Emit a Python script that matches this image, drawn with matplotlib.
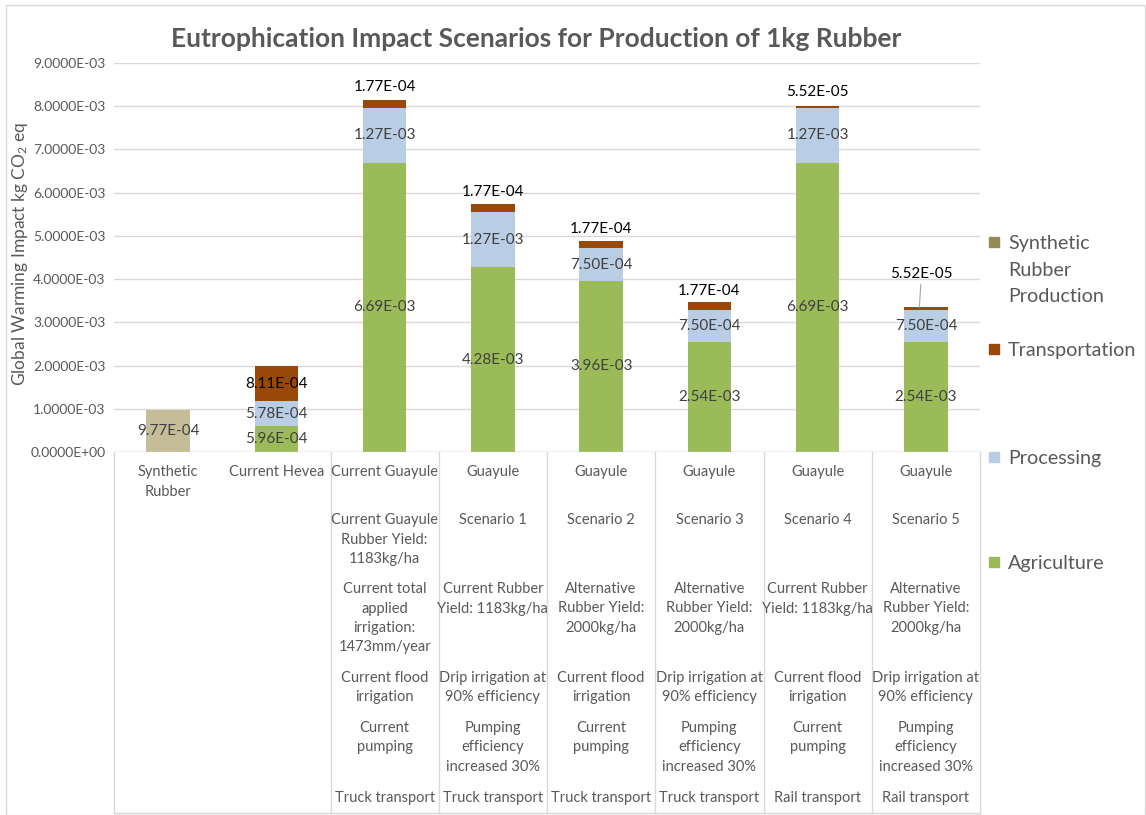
import matplotlib
matplotlib.use('Agg')
import matplotlib.pyplot as plt
from matplotlib.patches import Rectangle
from matplotlib.lines import Line2D
import numpy as np

plt.rcParams['font.family'] = ['Lato', 'DejaVu Sans']
plt.rcParams['mathtext.fontset'] = 'custom'
plt.rcParams['mathtext.rm'] = 'Lato'
plt.rcParams['mathtext.it'] = 'Lato:italic'

GREY = '#595959'
DARK = '#404040'

# data
categories = ['Synthetic Rubber', 'Current Hevea', 'Current Guayule', 'Scenario 1',
              'Scenario 2', 'Scenario 3', 'Scenario 4', 'Scenario 5']
synthetic = [9.77e-4, 0, 0, 0, 0, 0, 0, 0]
agriculture = [0, 5.96e-4, 6.69e-3, 4.28e-3, 3.96e-3, 2.54e-3, 6.69e-3, 2.54e-3]
processing = [0, 5.78e-4, 1.27e-3, 1.27e-3, 7.50e-4, 7.50e-4, 1.27e-3, 7.50e-4]
transportation = [0, 8.11e-4, 1.77e-4, 1.77e-4, 1.77e-4, 1.77e-4, 5.52e-5, 5.52e-5]

row1 = ['Synthetic\nRubber', 'Current Hevea', 'Current Guayule', 'Guayule', 'Guayule',
        'Guayule', 'Guayule', 'Guayule']
row2 = ['', '', 'Current Guayule\nRubber Yield:\n1183kg/ha', 'Scenario 1', 'Scenario 2',
        'Scenario 3', 'Scenario 4', 'Scenario 5']
row3 = ['', '', 'Current total\napplied\nirrigation:\n1473mm/year',
        'Current Rubber\nYield: 1183kg/ha', 'Alternative\nRubber Yield:\n2000kg/ha',
        'Alternative\nRubber Yield:\n2000kg/ha', 'Current Rubber\nYield: 1183kg/ha',
        'Alternative\nRubber Yield:\n2000kg/ha']
row4 = ['', '', 'Current flood\nirrigation', 'Drip irrigation at\n90% efficiency',
        'Current flood\nirrigation', 'Drip irrigation at\n90% efficiency',
        'Current flood\nirrigation', 'Drip irrigation at\n90% efficiency']
row5 = ['', '', 'Current\npumping', 'Pumping\nefficiency\nincreased 30%', 'Current\npumping',
        'Pumping\nefficiency\nincreased 30%', 'Current\npumping',
        'Pumping\nefficiency\nincreased 30%']
row6 = ['', '', 'Truck transport', 'Truck transport', 'Truck transport', 'Truck transport',
        'Rail transport', 'Rail transport']

c_agri = '#9BBB59'
c_proc = '#B9CDE5'
c_trans = '#984807'
c_syn = '#C4BD97'
c_syn_legend = '#948A54'

W, H = 1146, 815
fig = plt.figure(figsize=(W / 100, H / 100), dpi=100)
ax = fig.add_axes([114 / W, 1 - 452 / H, (980 - 114) / W, (452 - 63) / H])

x = np.arange(len(categories))
bw = 0.4
agri = np.array(agriculture)
proc = np.array(processing)
trans = np.array(transportation)
syn = np.array(synthetic)

ax.bar(x, syn, bw, color=c_syn, zorder=3)
ax.bar(x, agri, bw, color=c_agri, zorder=3)
ax.bar(x, proc, bw, bottom=agri, color=c_proc, zorder=3)
ax.bar(x, trans, bw, bottom=agri + proc, color=c_trans, zorder=3)

lab_fs = 11
for i in range(len(x)):
    if syn[i] > 0:
        ax.text(x[i], syn[i] / 2, f'{syn[i]:.2E}', ha='center', va='center',
                fontsize=lab_fs, color=DARK, zorder=5)
    if agri[i] > 0:
        ax.text(x[i], agri[i] / 2, f'{agri[i]:.2E}', ha='center', va='center',
                fontsize=lab_fs, color=DARK, zorder=5)
    if proc[i] > 0:
        ax.text(x[i], agri[i] + proc[i] / 2, f'{proc[i]:.2E}', ha='center', va='center',
                fontsize=lab_fs, color=DARK, zorder=5)

# transportation labels (pixel offsets above bar top, as placed in the original)
trans_offset = [None, 0, 13, 12, 12, 11, 14, 26]
for i in range(len(x)):
    if trans[i] <= 0:
        continue
    top = agri[i] + proc[i] + trans[i]
    if i == 1:
        ax.text(x[i], agri[i] + proc[i] + trans[i] / 2, f'{trans[i]:.2E}', ha='center',
                va='center', fontsize=lab_fs, color='black', zorder=5)
    elif i == 7:
        ax.annotate(f'{trans[i]:.2E}', xy=(x[i] - 0.06, top), xytext=(2, trans_offset[i]),
                    textcoords='offset pixels', ha='center', va='bottom', fontsize=lab_fs,
                    color='black', zorder=5,
                    arrowprops=dict(arrowstyle='-', color='#A6A6A6', lw=0.8,
                                    shrinkA=0, shrinkB=0))
    else:
        ax.annotate(f'{trans[i]:.2E}', xy=(x[i], top), xytext=(0, trans_offset[i]),
                    textcoords='offset pixels', ha='center', va='center', fontsize=lab_fs,
                    color='black', zorder=5)

ax.set_xlim(-0.5, len(x) - 0.5)
ax.set_ylim(0, 9e-3)
ax.set_yticks(np.arange(0, 9.5e-3, 1e-3))
ax.set_yticklabels([f'{v:.4E}' for v in np.arange(0, 9.5e-3, 1e-3)])
ax.tick_params(axis='y', length=0, labelsize=10, labelcolor=GREY, pad=6)
ax.set_xticks([])
ax.grid(axis='y', color='#D9D9D9', lw=1, zorder=0)
for s in ax.spines.values():
    s.set_visible(False)
ax.axhline(0, color='#D9D9D9', lw=1, zorder=4)

ax.set_ylabel('Global Warming Impact kg CO$_2$ eq', fontsize=12.5, color=GREY)
ax.yaxis.set_label_coords((20 - 114) / (980 - 114), 0.51)
ax.yaxis.label.set_va('center')

fig.text(536 / W, 1 - 39 / H, 'Eutrophication Impact Scenarios for Production of 1kg Rubber',
         ha='center', va='center', fontsize=19, fontweight='bold', color=GREY)

# category table below axis
tf = ax.get_xaxis_transform()
row_tops = [465, 513, 582, 671, 721, 791]
rows = [row1, row2, row3, row4, row5, row6]
for r, top in zip(rows, row_tops):
    ya = (452 - top) / (452 - 63)
    for i, t in enumerate(r):
        if t:
            ax.text(x[i], ya, t, transform=tf, ha='center', va='top', fontsize=10.5,
                    color=GREY, linespacing=1.5, multialignment='center', clip_on=False)

yb = (452 - 813) / (452 - 63)
for xs in [-0.5, 1.5, 2.5, 3.5, 4.5, 5.5, 6.5, 7.5]:
    ax.add_line(Line2D([xs, xs], [0, yb], transform=tf, color='#D9D9D9', lw=1, clip_on=False))
ax.add_line(Line2D([-0.5, 7.5], [yb, yb], transform=tf, color='#D9D9D9', lw=1, clip_on=False))

# legend
leg_items = [('Synthetic\nRubber\nProduction', c_syn_legend, 242),
             ('Transportation', c_trans, 349),
             ('Processing', c_proc, 457),
             ('Agriculture', c_agri, 562)]
for lab, col, yp in leg_items:
    fig.patches.append(Rectangle((989 / W, 1 - (yp + 5) / H), 10 / W, 10 / H, color=col,
                                 transform=fig.transFigure))
    fig.text(1008 / W, 1 - (yp - 7) / H, lab, ha='left', va='top', fontsize=14.2, color=GREY,
             linespacing=1.68)

fig.patches.append(Rectangle((6 / W, 0), (W - 7) / W, 1 - 5 / H, fill=False, ec='#D9D9D9',
                             lw=1, transform=fig.transFigure))

fig.savefig('out.png', dpi=100)
